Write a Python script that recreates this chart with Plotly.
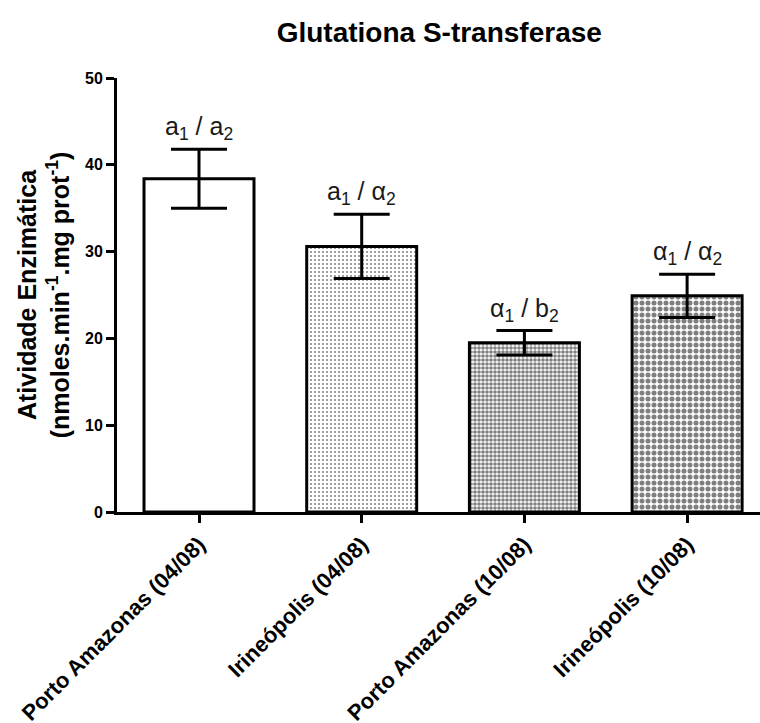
import plotly.graph_objects as go

categories = ["Porto Amazonas (04/08)", "Irineópolis (04/08)", "Porto Amazonas (10/08)", "Irineópolis (10/08)"]
means = [38.4, 30.6, 19.5, 24.9]
errors = [3.4, 3.7, 1.4, 2.5]
labels = ["a<sub>1</sub> / a<sub>2</sub>", "a<sub>1</sub> / α<sub>2</sub>",
          "α<sub>1</sub> / b<sub>2</sub>", "α<sub>1</sub> / α<sub>2</sub>"]
y_ticks = [0, 10, 20, 30, 40, 50]

FONT = "Arial, Liberation Sans, sans-serif"
xs = list(range(len(categories)))

fig = go.Figure()
fig.add_trace(go.Bar(
    x=xs, y=means, width=0.676,
    marker=dict(
        color="white",
        line=dict(color="black", width=3),
        pattern=dict(
            shape=["", ".", ".", "."],
            size=[4, 4, 4, 6],
            solidity=[0.1, 0.2, 0.65, 0.55],
            fgcolor="black", bgcolor="white", fillmode="overlay",
        ),
    ),
    error_y=dict(type="data", array=errors, visible=True, color="black", thickness=3, width=28),
    showlegend=False,
))

for x, m, e, t in zip(xs, means, errors, labels):
    fig.add_annotation(x=x, y=m + e, text=t, showarrow=False, yanchor="bottom", yshift=3,
                       font=dict(family=FONT, size=25, color="#1a1a1a"))

fig.update_layout(
    width=760, height=723,
    margin=dict(l=117, r=0, t=78, b=211),
    plot_bgcolor="white", paper_bgcolor="white",
    title=dict(text="<b>Glutationa S-transferase</b>", x=0.578, xanchor="center", y=0.955, yanchor="middle",
               font=dict(family=FONT, size=28, color="black")),
    xaxis=dict(range=[-0.504, 3.448], tickmode="array", tickvals=xs, automargin=False,
               ticktext=["<b>" + c + "</b>" for c in categories],
               tickangle=-45, showline=True, linecolor="black", linewidth=3,
               ticks="outside", ticklen=8, tickwidth=3, tickcolor="black",
               showgrid=False, zeroline=False,
               tickfont=dict(family=FONT, size=22, color="black")),
    yaxis=dict(range=[0, 50], tickvals=y_ticks, ticktext=["<b>%d</b>" % v for v in y_ticks],
               automargin=False,
               showline=True, linecolor="black", linewidth=3,
               ticks="outside", ticklen=8, tickwidth=3, tickcolor="black",
               showgrid=False, zeroline=False,
               tickfont=dict(family=FONT, size=16, color="black"),
               title=dict(text="<b>Atividade Enzimática<br>(nmoles.min<sup>-1</sup>.mg prot<sup>-1</sup>)</b>",
                          font=dict(family=FONT, size=25, color="black"), standoff=9)),
)

fig.write_html("out.html", config={"displayModeBar": False})
with open("out.html", encoding="utf-8") as f:
    html = f.read()
html = html.replace("<head>", "<head><style>html,body{margin:0;padding:0;overflow:hidden;}</style>", 1)
with open("out.html", "w", encoding="utf-8") as f:
    f.write(html)
